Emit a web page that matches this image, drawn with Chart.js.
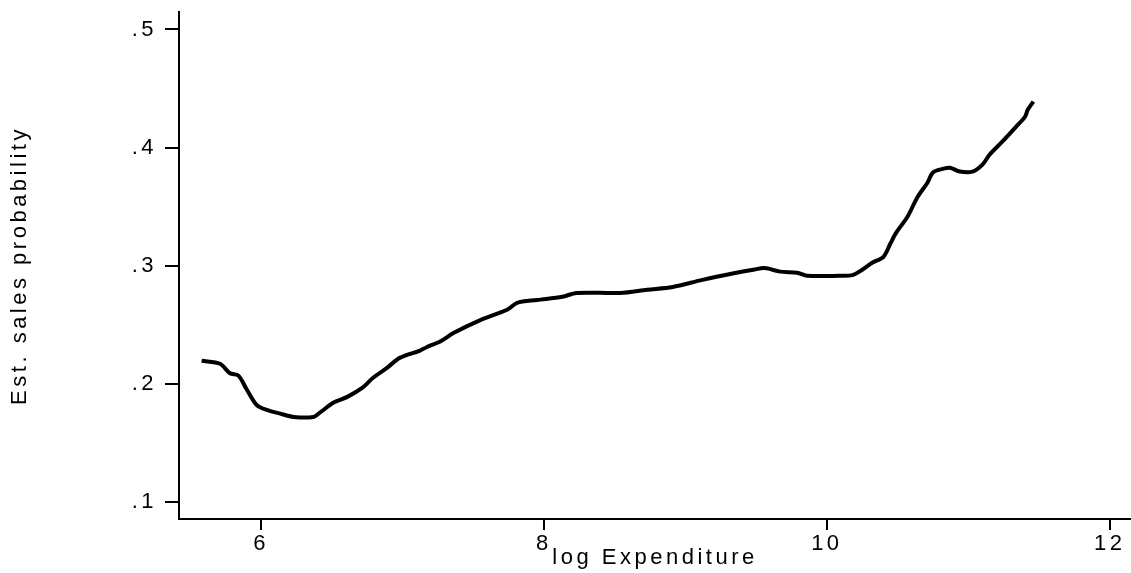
<!DOCTYPE html>
<html>
<head>
<meta charset="utf-8">
<script src="https://cdn.jsdelivr.net/npm/chart.js@4.4.0/dist/chart.umd.min.js"></script>
<style>
  html, body { margin: 0; padding: 0; background: #fff; }
  #wrap { width: 1131px; height: 573px; position: relative; }
</style>
</head>
<body>
<div id="wrap"><canvas id="chart"></canvas></div>
<script>
// log Expenditure (x) and estimated sales probability (y)
const logExp = [5.58, 5.71, 5.78, 5.84, 5.90, 5.97, 6.04, 6.13, 6.23, 6.37,
                6.42, 6.51, 6.61, 6.72, 6.79, 6.89, 6.98, 7.12, 7.17, 7.27,
                7.36, 7.55, 7.74, 7.81, 7.95, 8.13, 8.23, 8.54, 8.73, 8.91,
                9.12, 9.36, 9.48, 9.56, 9.67, 9.79, 9.86, 10.09, 10.18, 10.25,
                10.32, 10.40, 10.45, 10.49, 10.57, 10.64, 10.71, 10.75, 10.82, 10.87,
                10.94, 11.03, 11.10, 11.15, 11.24, 11.34, 11.40, 11.42, 11.46];
const salesProb = [0.2195, 0.217, 0.209, 0.207, 0.195, 0.182, 0.178, 0.175, 0.172, 0.172,
                   0.176, 0.184, 0.189, 0.197, 0.205, 0.2135, 0.222, 0.228, 0.231, 0.236,
                   0.243, 0.254, 0.2627, 0.2686, 0.271, 0.2737, 0.277, 0.277, 0.2797, 0.282,
                   0.288, 0.294, 0.2966, 0.298, 0.295, 0.294, 0.2915, 0.2915, 0.292, 0.2966,
                   0.3025, 0.3076, 0.319, 0.328, 0.3415, 0.358, 0.370, 0.379, 0.382, 0.383,
                   0.3797, 0.3797, 0.3856, 0.394, 0.405, 0.418, 0.426, 0.432, 0.439];

const xTicks = [6, 8, 10, 12];
const xTickLabels = ['6', '8', '10', '12'];
const yTicks = [0.1, 0.2, 0.3, 0.4, 0.5];
const yTickLabels = ['.1', '.2', '.3', '.4', '.5'];

const fam = '"Liberation Sans", Arial, sans-serif';

// wide lettering like the original bitmap font
const spacing = {
    id: 'spacing',
    beforeDraw(chart) { chart.ctx.letterSpacing = '3.5px'; }
};

const points = logExp.map((x, i) => ({ x: x, y: salesProb[i] }));

new Chart(document.getElementById('chart'), {
    type: 'line',
    data: {
        datasets: [{
            data: points,
            borderColor: '#000',
            borderWidth: 4,
            pointRadius: 0,
            tension: 0.3,
            fill: false
        }]
    },
    options: {
        responsive: true,
        maintainAspectRatio: false,
        animation: false,
        layout: { padding: { top: 12, left: 0, right: 0, bottom: 0 } },
        plugins: { legend: { display: false }, tooltip: { enabled: false } },
        scales: {
            x: {
                type: 'linear',
                min: 5.42,
                max: 12.15,
                afterBuildTicks: s => { s.ticks = xTicks.map(v => ({ value: v })); },
                afterFit: s => { s.height = 54; s.paddingLeft = 0; s.paddingRight = 0; },
                ticks: {
                    callback: v => xTickLabels[xTicks.indexOf(v)],
                    font: { family: fam, size: 22 },
                    color: '#000',
                    padding: 1,
                    maxRotation: 0
                },
                grid: { drawOnChartArea: false, drawTicks: true, tickLength: 11, color: '#000', lineWidth: 2 },
                border: { display: true, color: '#000', width: 2 },
                title: {
                    display: true,
                    text: 'log Expenditure',
                    font: { family: fam, size: 22 },
                    color: '#000',
                    padding: { top: 0, bottom: 2 }
                }
            },
            y: {
                type: 'linear',
                min: 0.0856,
                max: 0.5148,
                afterBuildTicks: s => { s.ticks = yTicks.map(v => ({ value: v })); },
                afterFit: s => { s.width = 179; s.paddingTop = 0; s.paddingBottom = 0; },
                ticks: {
                    callback: v => yTickLabels[yTicks.indexOf(v)],
                    font: { family: fam, size: 22 },
                    color: '#000',
                    padding: 8
                },
                grid: { drawOnChartArea: false, drawTicks: true, tickLength: 14, color: '#000', lineWidth: 2 },
                border: { display: true, color: '#000', width: 2 },
                title: {
                    display: true,
                    text: 'Est. sales probability',
                    font: { family: fam, size: 22 },
                    color: '#000',
                    padding: { top: 7, bottom: 0 }
                }
            }
        }
    },
    plugins: [spacing]
});
</script>
</body>
</html>
